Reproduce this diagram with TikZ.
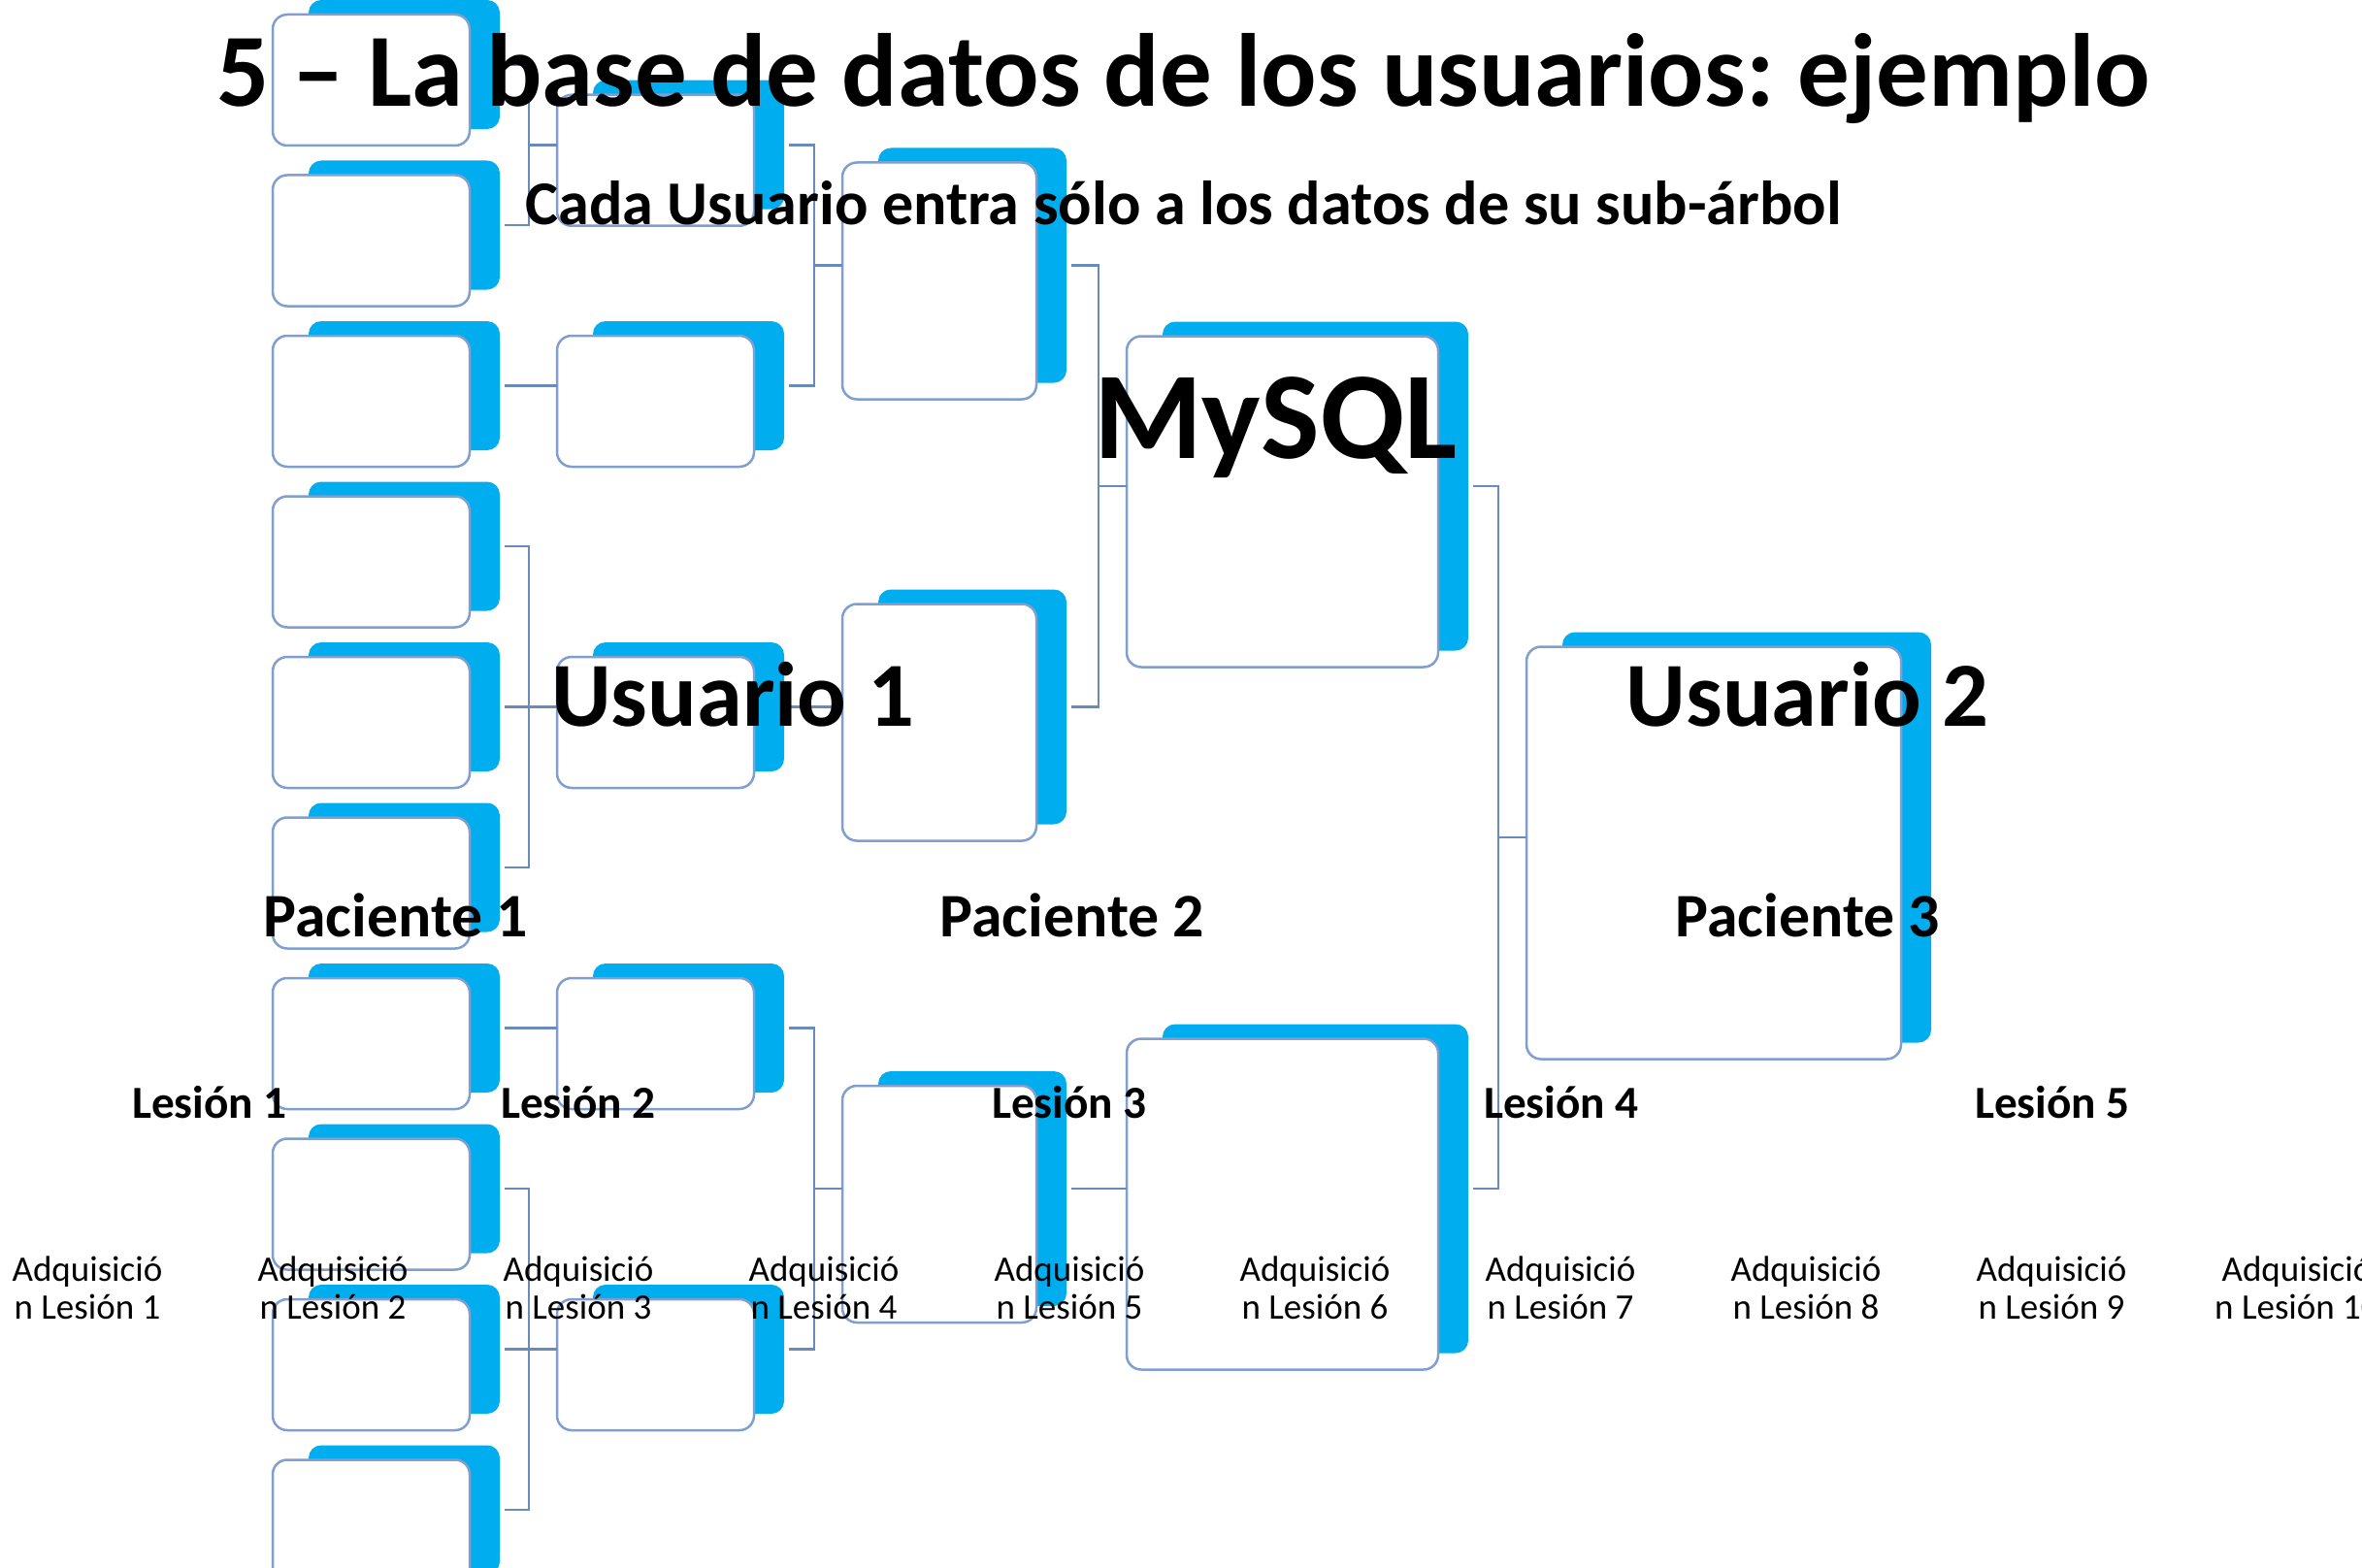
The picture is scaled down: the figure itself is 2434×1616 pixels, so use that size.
\documentclass[tikz,border=0pt]{standalone}
\usepackage{fontspec}
\setmainfont{Carlito}
\usetikzlibrary{calc}
\frenchspacing
\definecolor{tabblue}{RGB}{0,174,239}
\definecolor{cardline}{RGB}{128,158,206}
\definecolor{connline}{RGB}{104,138,188}
\tikzset{
  tab/.style={fill=tabblue, draw=none, rounded corners=13pt, inner sep=0pt, outer sep=0pt},
  card/.style={fill=white, draw=cardline, line width=2.5pt, rounded corners=15pt, inner sep=0pt, outer sep=0pt},
  conn/.style={draw=connline, line width=2.8pt, shorten <=5pt},
  ttl/.style={font=\fontsize{107}{110}\selectfont\bfseries, inner sep=0pt},
  subttl/.style={font=\fontsize{64.2}{67}\selectfont\bfseries, inner sep=0pt},
  dbtxt/.style={font=\fontsize{128}{132}\selectfont\bfseries, inner sep=0pt},
  usrtxt/.style={font=\fontsize{94.5}{98}\selectfont\bfseries, inner sep=0pt},
  pactxt/.style={font=\fontsize{63.8}{66}\selectfont\bfseries, inner sep=0pt},
  lestxt/.style={font=\fontsize{47.3}{49}\selectfont\bfseries, inner sep=0pt},
  adqtxt/.style={font=\fontsize{37}{39}\selectfont, inner sep=0pt, align=center}
}
\newcommand\folder[5]{%
  \node[tab, minimum width={(#4-6)*1pt}, minimum height={(#5-2)*1pt}] (b#1) at ({#2+34},{#3-16}) {};
  \node[card, minimum width={#4*1pt}, minimum height={#5*1pt}] (w#1) at (#2,#3) {};
}
\newcommand\junction[1]{%
  \coordinate (j#1) at ($(w#1.west |- b#1.east)+(-29,0)$);
}
\newcommand\link[2]{%
  \draw[conn] (b#1.east) -| (j#2) -- (w#2.west |- j#2);
}
\begin{document}
\begin{tikzpicture}[x=1pt,y=-1pt]
\path[use as bounding box] (0,0) rectangle (2434,1616);
\clip (0,0) rectangle (2434,1616);
\fill[white] (0,0) rectangle (2434,1616);

% column 1
\folder{a0}{382.5}{82.5}{203}{135}
\folder{a1}{382.5}{248}{203}{135}
\folder{a2}{382.5}{413.5}{203}{135}
\folder{a3}{382.5}{579}{203}{135}
\folder{a4}{382.5}{744.5}{203}{135}
\folder{a5}{382.5}{910}{203}{135}
\folder{a6}{382.5}{1075.5}{203}{135}
\folder{a7}{382.5}{1241}{203}{135}
\folder{a8}{382.5}{1406.5}{203}{135}
\folder{a9}{382.5}{1572}{203}{135}
% column 2
\folder{c0}{675.5}{165.25}{203}{135}
\folder{c1}{675.5}{413.5}{203}{135}
\folder{c2}{675.5}{744.5}{203}{135}
\folder{c3}{675.5}{1075.5}{203}{135}
\folder{c4}{675.5}{1406.5}{203}{135}
% column 3
\folder{p0}{968}{289.5}{200}{244}
\folder{p1}{968}{744.5}{200}{244}
\folder{p2}{968}{1241}{200}{244}
% column 4
\folder{db}{1321.5}{517}{321}{341}
\folder{q1}{1321.5}{1241}{321}{341}
% column 5
\folder{u2}{1766}{879}{386}{425}

% connectors
\junction{c0}\junction{c1}\junction{c2}\junction{c3}\junction{c4}
\junction{p0}\junction{p1}\junction{p2}
\junction{db}\junction{q1}\junction{u2}
\link{a0}{c0}\link{a1}{c0}
\link{a2}{c1}
\link{a3}{c2}\link{a4}{c2}\link{a5}{c2}
\link{a6}{c3}
\link{a7}{c4}\link{a8}{c4}\link{a9}{c4}
\link{c0}{p0}\link{c1}{p0}
\link{c2}{p1}
\link{c3}{p2}\link{c4}{p2}
\link{p0}{db}\link{p1}{db}
\link{p2}{q1}
\link{db}{u2}\link{q1}{u2}

% texts
\node[ttl, anchor=base] (title) at (1219.5,110) {5 – La base de datos de los usuarios: ejemplo};
\node[subttl, anchor=base] (subtitle) at (1219.5,232) {Cada Usuario entra sólo a los datos de su sub-árbol};
\node[dbtxt, anchor=base] (mysql) at (1314.5,472) {MySQL};
\node[usrtxt, anchor=base] (usr1) at (755,748) {Usuario 1};
\node[usrtxt, anchor=base] (usr2) at (1862.5,748) {Usuario 2};
\node[pactxt, anchor=base] (pac1) at (408,965) {Paciente 1};
\node[pactxt, anchor=base] (pac2) at (1105,965) {Paciente 2};
\node[pactxt, anchor=base] (pac3) at (1863,965) {Paciente 3};
\node[lestxt, anchor=base] (les1) at (216,1152) {Lesión 1};
\node[lestxt, anchor=base] (les2) at (596,1152) {Lesión 2};
\node[lestxt, anchor=base] (les3) at (1102,1152) {Lesión 3};
\node[lestxt, anchor=base] (les4) at (1609,1152) {Lesión 4};
\node[lestxt, anchor=base] (les5) at (2115,1152) {Lesión 5};
\foreach \k in {1,...,10}{
  \node[adqtxt, anchor=base] (adq\k) at ({90+253*(\k-1)},1359) {Adquisició\\n Lesión \k};
}
\end{tikzpicture}
\end{document}
